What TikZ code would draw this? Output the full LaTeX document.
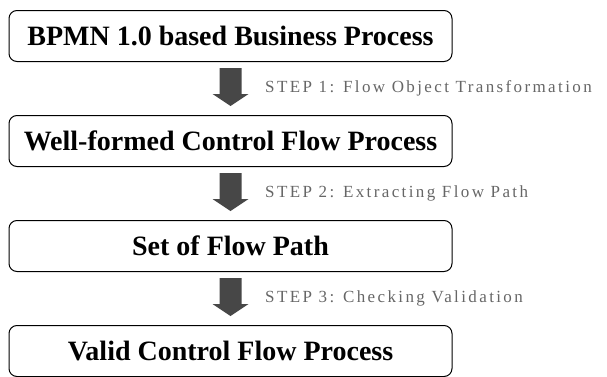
\documentclass[tikz,border=0pt]{standalone}
\usepackage{fontspec}
\setmainfont{Liberation Serif}
\newfontfamily\stepfont[LetterSpace=14]{Liberation Serif}
\usetikzlibrary{positioning,calc}
\tikzset{procbox/.style={draw, rounded corners=8pt, line width=1pt,
        minimum width=443pt, minimum height=51pt, inner sep=0pt,
        font=\fontsize{28}{32}\selectfont\bfseries},
    steplabel/.style={anchor=west, inner sep=0pt, text=black!60,
        font=\fontsize{17}{20}\stepfont},
    stepfill/.style={fill=black!72},
    }
\begin{document}
\begin{tikzpicture}[x=1pt,y=1pt]
\useasboundingbox (0,0) rectangle (607,376);
\node[procbox] (bpmn) at (230.5,340) {BPMN 1.0 based Business Process};
\node[procbox, below=53pt of bpmn] (wellformed) {Well-formed Control Flow Process};
\node[procbox, below=53pt of wellformed] (flowpath) {Set of Flow Path};
\node[procbox, below=53pt of flowpath] (valid) {Valid Control Flow Process};
% block arrows and step names
\foreach \from/\to/\n/\txt in {bpmn/wellformed/1/Flow Object Transformation,
    wellformed/flowpath/2/Extracting Flow Path,
    flowpath/valid/3/Checking Validation}{
  \fill[stepfill] ($(\from.south)+(-11,-6)$) -- ++(22,0) -- ++(0,-26) -- ++(7,0)
    -- ($(\to.north)+(0,9)$) -- ($(\from.south)+(-18,-32)$) -- ++(7,0) -- cycle;
  \node[steplabel] (step\n) at ($(\from.south)+(34.5,-26)$) {STEP \n: \txt};
}
\end{tikzpicture}
\end{document}
